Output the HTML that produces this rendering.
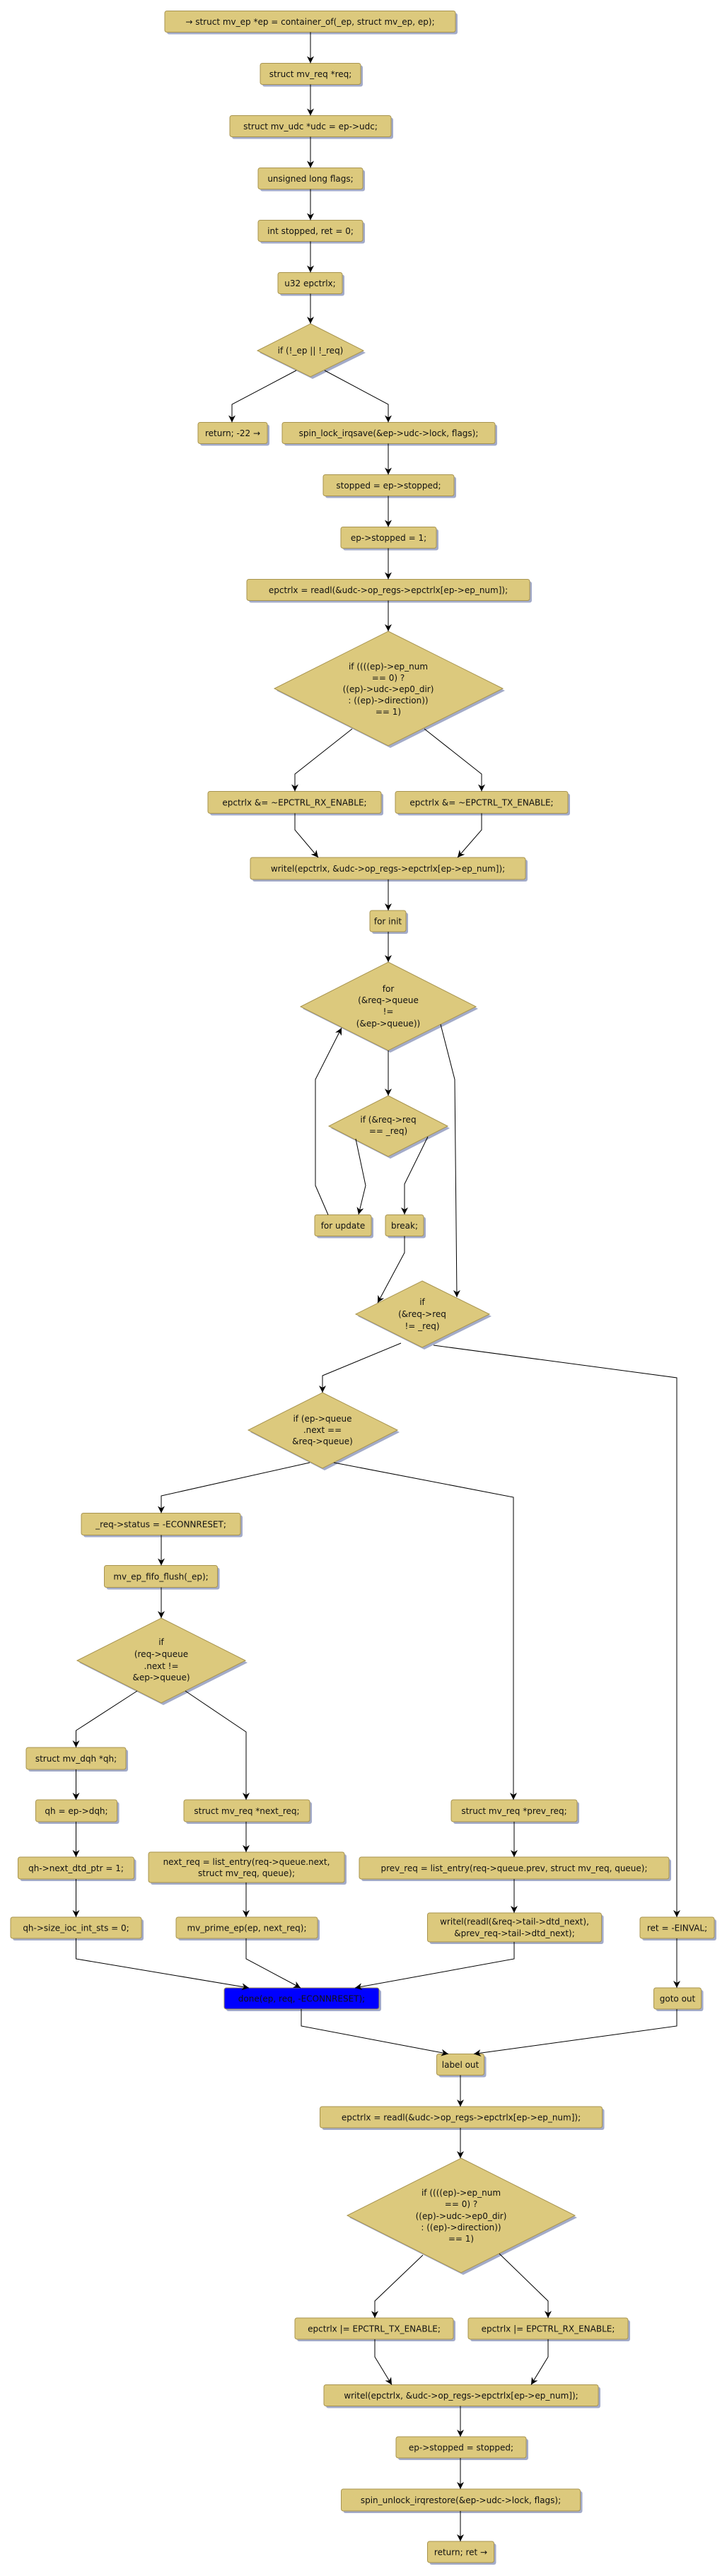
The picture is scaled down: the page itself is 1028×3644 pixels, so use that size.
<!DOCTYPE html>
<html><head><meta charset="utf-8"><style>
html,body{margin:0;padding:0;background:#fff;}
svg{display:block;}
text{font-family:"DejaVu Sans","Liberation Sans",sans-serif;font-size:12px;fill:#111;text-anchor:middle;}
.b{fill:#dcc97d;stroke:#a8944f;stroke-width:1;}
.s{fill:#a3abc9;}
.l{fill:none;stroke:#000;stroke-width:1;}
</style></head><body>
<svg width="1028" height="3644" viewBox="0 0 1028 3644" xmlns="http://www.w3.org/2000/svg">
<defs>
<marker id="a" viewBox="0 0 10 10" refX="10" refY="5" markerWidth="10" markerHeight="10" markerUnits="userSpaceOnUse" orient="auto">
<path d="M0,0 L10,5 L0,10 L3,5 z" fill="#000"/></marker>
</defs>

<!-- boxes: shadow then rect then text -->
<g id="boxes">
<rect class="s" x="236" y="18.5" width="411" height="30" rx="3"/><rect class="b" x="233" y="15.5" width="411" height="30" rx="3"/><text x="438.5" y="35">→ struct mv_ep *ep = container_of(_ep, struct mv_ep, ep);</text>
<rect class="s" x="371" y="92.5" width="142" height="30" rx="3"/><rect class="b" x="368" y="89.5" width="142" height="30" rx="3"/><text x="439" y="109">struct mv_req *req;</text>
<rect class="s" x="328" y="166.5" width="228" height="30" rx="3"/><rect class="b" x="325" y="163.5" width="228" height="30" rx="3"/><text x="439" y="183">struct mv_udc *udc = ep-&gt;udc;</text>
<rect class="s" x="368" y="240.5" width="148" height="30" rx="3"/><rect class="b" x="365" y="237.5" width="148" height="30" rx="3"/><text x="439" y="257">unsigned long flags;</text>
<rect class="s" x="368" y="314.5" width="148" height="30" rx="3"/><rect class="b" x="365" y="311.5" width="148" height="30" rx="3"/><text x="439" y="331">int stopped, ret = 0;</text>
<rect class="s" x="396" y="388.5" width="91" height="30" rx="3"/><rect class="b" x="393" y="385.5" width="91" height="30" rx="3"/><text x="438.5" y="405">u32 epctrlx;</text>

<rect class="s" x="283" y="600.5" width="98" height="30" rx="3"/><rect class="b" x="280" y="597.5" width="98" height="30" rx="3"/><text x="329" y="617">return; -22 →</text>
<rect class="s" x="402" y="600.5" width="301" height="30" rx="3"/><rect class="b" x="399" y="597.5" width="301" height="30" rx="3"/><text x="549.5" y="617">spin_lock_irqsave(&amp;ep-&gt;udc-&gt;lock, flags);</text>
<rect class="s" x="460" y="674.5" width="185" height="30" rx="3"/><rect class="b" x="457" y="671.5" width="185" height="30" rx="3"/><text x="549.5" y="691">stopped = ep-&gt;stopped;</text>
<rect class="s" x="485" y="748.5" width="135" height="30" rx="3"/><rect class="b" x="482" y="745.5" width="135" height="30" rx="3"/><text x="549.5" y="765">ep-&gt;stopped = 1;</text>
<rect class="s" x="352" y="822.5" width="400" height="30" rx="3"/><rect class="b" x="349" y="819.5" width="400" height="30" rx="3"/><text x="549" y="839">epctrlx = readl(&amp;udc-&gt;op_regs-&gt;epctrlx[ep-&gt;ep_num]);</text>

<rect class="s" x="297" y="1122.5" width="245" height="31" rx="3"/><rect class="b" x="294" y="1119.5" width="245" height="31" rx="3"/><text x="416.5" y="1139.5">epctrlx &amp;= ~EPCTRL_RX_ENABLE;</text>
<rect class="s" x="562" y="1122.5" width="244" height="31" rx="3"/><rect class="b" x="559" y="1119.5" width="244" height="31" rx="3"/><text x="681" y="1139.5">epctrlx &amp;= ~EPCTRL_TX_ENABLE;</text>
<rect class="s" x="357" y="1216" width="389" height="31" rx="3"/><rect class="b" x="354" y="1213" width="389" height="31" rx="3"/><text x="548.5" y="1233">writel(epctrlx, &amp;udc-&gt;op_regs-&gt;epctrlx[ep-&gt;ep_num]);</text>
<rect class="s" x="526" y="1291" width="51" height="30" rx="3"/><rect class="b" x="523" y="1288" width="51" height="30" rx="3"/><text x="548.5" y="1307.5">for init</text>

<rect class="s" x="448" y="1721.5" width="80" height="30" rx="3"/><rect class="b" x="445" y="1718.5" width="80" height="30" rx="3"/><text x="485" y="1738">for update</text>
<rect class="s" x="548" y="1721.5" width="54" height="30" rx="3"/><rect class="b" x="545" y="1718.5" width="54" height="30" rx="3"/><text x="572" y="1738">break;</text>

<rect class="s" x="118" y="2143.5" width="225" height="31" rx="3"/><rect class="b" x="115" y="2140.5" width="225" height="31" rx="3"/><text x="227.5" y="2160.5">_req-&gt;status = -ECONNRESET;</text>
<rect class="s" x="150.5" y="2217.5" width="160" height="31" rx="3"/><rect class="b" x="147.5" y="2214.5" width="160" height="31" rx="3"/><text x="227.5" y="2234.5">mv_ep_fifo_flush(_ep);</text>

<rect class="s" x="40" y="2475" width="141" height="31" rx="3"/><rect class="b" x="37" y="2472" width="141" height="31" rx="3"/><text x="107.5" y="2492">struct mv_dqh *qh;</text>
<rect class="s" x="53.5" y="2549" width="115" height="31" rx="3"/><rect class="b" x="50.5" y="2546" width="115" height="31" rx="3"/><text x="108" y="2566">qh = ep-&gt;dqh;</text>
<rect class="s" x="28.5" y="2630" width="164" height="31" rx="3"/><rect class="b" x="25.5" y="2627" width="164" height="31" rx="3"/><text x="107.5" y="2647">qh-&gt;next_dtd_ptr = 1;</text>
<rect class="s" x="18" y="2715" width="185" height="30" rx="3"/><rect class="b" x="15" y="2712" width="185" height="30" rx="3"/><text x="107.5" y="2731.5">qh-&gt;size_ioc_int_sts = 0;</text>

<rect class="s" x="263" y="2549" width="178" height="31" rx="3"/><rect class="b" x="260" y="2546" width="178" height="31" rx="3"/><text x="349" y="2566">struct mv_req *next_req;</text>
<rect class="s" x="213" y="2623" width="277" height="43" rx="3"/><rect class="b" x="210" y="2620" width="277" height="43" rx="3"/><text x="348.5" y="2638">next_req = list_entry(req-&gt;queue.next,</text><text x="348.5" y="2654">struct mv_req, queue);</text>
<rect class="s" x="252" y="2715" width="200" height="30" rx="3"/><rect class="b" x="249" y="2712" width="200" height="30" rx="3"/><text x="349" y="2731.5">mv_prime_ep(ep, next_req);</text>

<rect class="s" x="641" y="2549" width="178" height="31" rx="3"/><rect class="b" x="638" y="2546" width="178" height="31" rx="3"/><text x="727" y="2566">struct mv_req *prev_req;</text>
<rect class="s" x="511" y="2630" width="438" height="31" rx="3"/><rect class="b" x="508" y="2627" width="438" height="31" rx="3"/><text x="727" y="2647">prev_req = list_entry(req-&gt;queue.prev, struct mv_req, queue);</text>
<rect class="s" x="607.5" y="2709" width="246" height="41" rx="3"/><rect class="b" x="604.5" y="2706" width="246" height="41" rx="3"/><text x="727.5" y="2722.5">writel(readl(&amp;req-&gt;tail-&gt;dtd_next),</text><text x="727.5" y="2739">&amp;prev_req-&gt;tail-&gt;dtd_next);</text>
<rect class="s" x="908" y="2715" width="105" height="30" rx="3"/><rect class="b" x="905" y="2712" width="105" height="30" rx="3"/><text x="957.5" y="2731.5">ret = -EINVAL;</text>

<rect class="s" x="320" y="2815" width="219" height="30" rx="3"/><rect style="fill:#0000ff;stroke:#a8944f;stroke-width:1" x="317" y="2812" width="219" height="30" rx="3"/><text x="426.5" y="2831.5">done(ep, req, -ECONNRESET);</text>
<rect class="s" x="927.5" y="2815" width="67" height="30" rx="3"/><rect class="b" x="924.5" y="2812" width="67" height="30" rx="3"/><text x="958" y="2831.5">goto out</text>
<rect class="s" x="620.5" y="2908.5" width="67" height="30" rx="3"/><rect class="b" x="617.5" y="2905.5" width="67" height="30" rx="3"/><text x="651" y="2925">label out</text>
<rect class="s" x="455.5" y="2983" width="399" height="30" rx="3"/><rect class="b" x="452.5" y="2980" width="399" height="30" rx="3"/><text x="652" y="2999.5">epctrlx = readl(&amp;udc-&gt;op_regs-&gt;epctrlx[ep-&gt;ep_num]);</text>

<rect class="s" x="420" y="3282" width="224" height="30" rx="3"/><rect class="b" x="417" y="3279" width="224" height="30" rx="3"/><text x="529" y="3298.5">epctrlx |= EPCTRL_TX_ENABLE;</text>
<rect class="s" x="665" y="3282" width="226" height="30" rx="3"/><rect class="b" x="662" y="3279" width="226" height="30" rx="3"/><text x="775" y="3298.5">epctrlx |= EPCTRL_RX_ENABLE;</text>
<rect class="s" x="461" y="3376.5" width="388" height="30" rx="3"/><rect class="b" x="458" y="3373.5" width="388" height="30" rx="3"/><text x="652" y="3393">writel(epctrlx, &amp;udc-&gt;op_regs-&gt;epctrlx[ep-&gt;ep_num]);</text>
<rect class="s" x="563" y="3450" width="184" height="30" rx="3"/><rect class="b" x="560" y="3447" width="184" height="30" rx="3"/><text x="652" y="3466.5">ep-&gt;stopped = stopped;</text>
<rect class="s" x="485.5" y="3524" width="338" height="31" rx="3"/><rect class="b" x="482.5" y="3521" width="338" height="31" rx="3"/><text x="651.5" y="3541">spin_unlock_irqrestore(&amp;ep-&gt;udc-&gt;lock, flags);</text>
<rect class="s" x="607.5" y="3598" width="94" height="30" rx="3"/><rect class="b" x="604.5" y="3595" width="94" height="30" rx="3"/><text x="651.5" y="3614.5">return; ret →</text>
</g>

<!-- diamonds -->
<g>
<polygon class="s" points="442,461 517,499 442,536 367,499"/><polygon class="b" points="439,458 514,496 439,533 364,496"/><text x="439" y="500">if (!_ep || !_req)</text>

<polygon class="s" points="552,896 714,977 552,1058 391,977"/><polygon class="b" points="549,893 711,974 549,1055 388,974"/><text x="549" y="947">if ((((ep)-&gt;ep_num</text><text x="549" y="963">== 0) ?</text><text x="549" y="979">((ep)-&gt;udc-&gt;ep0_dir)</text><text x="549" y="995">: ((ep)-&gt;direction))</text><text x="549" y="1011">== 1)</text>

<polygon class="s" points="552,1364 676,1427 552,1489 428,1427"/><polygon class="b" points="549,1361 673,1424 549,1486 425,1424"/><text x="549" y="1403">for</text><text x="549" y="1419">(&amp;req-&gt;queue</text><text x="549" y="1435">!=</text><text x="549" y="1452">(&amp;ep-&gt;queue))</text>

<polygon class="s" points="552,1553 636,1596 552,1639 468,1596"/><polygon class="b" points="549,1550 633,1593 549,1636 465,1593"/><text x="549" y="1588">if (&amp;req-&gt;req</text><text x="549" y="1604">== _req)</text>

<polygon class="s" points="600,1815 695,1862 600,1909 506,1862"/><polygon class="b" points="597,1812 692,1859 597,1906 503,1859"/><text x="597" y="1846">if</text><text x="597" y="1863">(&amp;req-&gt;req</text><text x="597" y="1880">!= _req)</text>

<polygon class="s" points="459,1973 565,2026 459,2080 354,2026"/><polygon class="b" points="456,1970 562,2023 456,2077 351,2023"/><text x="456" y="2011">if (ep-&gt;queue</text><text x="456" y="2027">.next ==</text><text x="456" y="2043">&amp;req-&gt;queue)</text>

<polygon class="s" points="231,2292 350,2352 231,2412 112,2352"/><polygon class="b" points="228,2289 347,2349 228,2409 109,2349"/><text x="228" y="2327">if</text><text x="228" y="2344">(req-&gt;queue</text><text x="228" y="2361">.next !=</text><text x="228" y="2377">&amp;ep-&gt;queue)</text>

<polygon class="s" points="655,3056 816,3137 655,3218 494,3137"/><polygon class="b" points="652,3053 813,3134 652,3215 491,3134"/><text x="652" y="3106">if ((((ep)-&gt;ep_num</text><text x="652" y="3122">== 0) ?</text><text x="652" y="3139">((ep)-&gt;udc-&gt;ep0_dir)</text><text x="652" y="3155">: ((ep)-&gt;direction))</text><text x="652" y="3171">== 1)</text>
</g>

<!-- connectors -->
<g class="l" marker-end="url(#a)">
<path d="M439,45.5 V89.5"/>
<path d="M439,119.5 V163.5"/>
<path d="M439,193.5 V237.5"/>
<path d="M439,267.5 V311.5"/>
<path d="M439,341.5 V385.5"/>
<path d="M439,415.5 V458"/>
<path d="M419,524 L328,572 V597.5"/>
<path d="M459,524 L549,572 V597.5"/>
<path d="M549,627.5 V671.5"/>
<path d="M549,701.5 V745.5"/>
<path d="M549,775.5 V819.5"/>
<path d="M549,849.5 V893"/>
<path d="M498,1031 L417,1095 V1119.5"/>
<path d="M600,1031 L681,1095 V1119.5"/>
<path d="M417,1150.5 V1174 L450,1213"/>
<path d="M681,1150.5 V1174 L647,1213"/>
<path d="M549,1244 V1288"/>
<path d="M549,1318 V1361"/>
<path d="M549,1486 V1550"/>
<path d="M503,1611 L517,1677 L507,1718"/>
<path d="M605,1608 L572,1675 V1718"/>
<path d="M464,1718.5 L446,1677 V1527 L483,1454"/>
<path d="M623,1449 L643,1527 L646,1835"/>
<path d="M572,1748.5 V1772 L534,1843"/>
<path d="M567,1900 L456,1946 V1970"/>
<path d="M613,1903 L957,1949 V2712"/>
<path d="M438,2069 L228,2116 V2140.5"/>
<path d="M472,2069 L726,2118 V2546"/>
<path d="M228,2171.5 V2214.5"/>
<path d="M228,2245.5 V2289"/>
<path d="M194,2392 L107.5,2448 V2472"/>
<path d="M262,2392 L348,2450 V2546"/>
<path d="M107.5,2503 V2546"/>
<path d="M107.5,2577 V2627"/>
<path d="M107.5,2658 V2712"/>
<path d="M348,2577 V2620"/>
<path d="M348,2663 V2712"/>
<path d="M727,2577 V2627"/>
<path d="M727,2658 V2706"/>
<path d="M107.5,2742 V2771 L352,2812"/>
<path d="M348,2742 V2771 L425,2812"/>
<path d="M727,2747 V2771 L502,2812"/>
<path d="M957,2742 V2812"/>
<path d="M426,2842 V2866 L634,2905.5"/>
<path d="M957,2842 V2866 L670,2905.5"/>
<path d="M651,2935.5 V2980"/>
<path d="M651,3010 V3053"/>
<path d="M598,3190 L530,3255 V3279"/>
<path d="M706,3188 L775,3255 V3279"/>
<path d="M530,3309 V3334 L554,3373.5"/>
<path d="M775,3309 V3334 L751,3373.5"/>
<path d="M651,3403.5 V3447"/>
<path d="M651,3477 V3521"/>
<path d="M651,3552 V3595"/>
</g>
</svg>
</body></html>
